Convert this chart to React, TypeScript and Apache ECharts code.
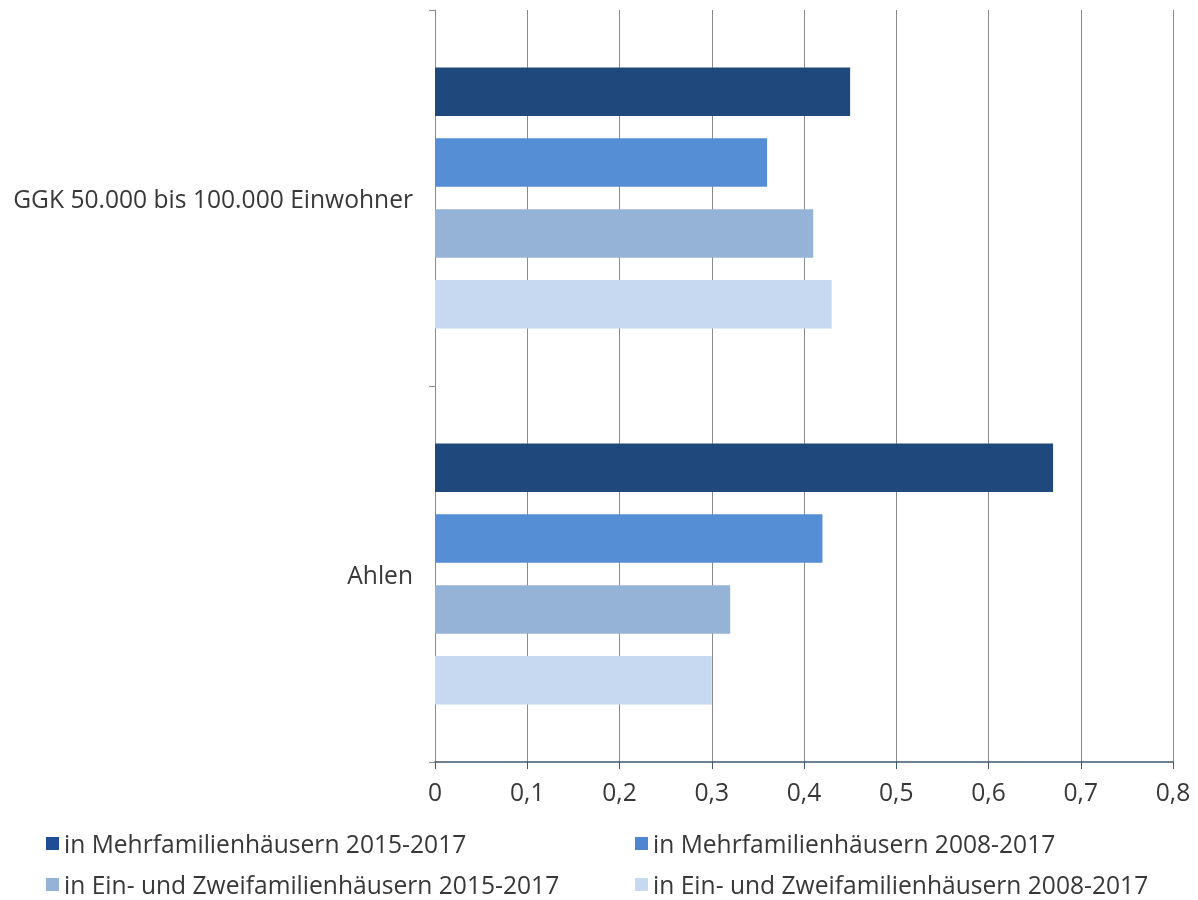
import React, { useEffect, useRef } from "react";
import * as echarts from "echarts";

const categories = ["GGK 50.000 bis 100.000 Einwohner", "Ahlen"];
const seriesNames = [
  "in Mehrfamilienhäusern 2015-2017",
  "in Mehrfamilienhäusern 2008-2017",
  "in Ein- und Zweifamilienhäusern 2015-2017",
  "in Ein- und Zweifamilienhäusern 2008-2017",
];
const mfh2015 = [0.45, 0.67];
const mfh2008 = [0.36, 0.42];
const ezfh2015 = [0.41, 0.32];
const ezfh2008 = [0.43, 0.3];
const colors = ["#1F497D", "#558ED5", "#95B3D7", "#C6D9F1"];
const legendColors = ["#1F4E94", "#4F86D0", "#95B3D7", "#C6D9F1"];
const xTicks = [0, 0.1, 0.2, 0.3, 0.4, 0.5, 0.6, 0.7, 0.8];

const FONT = "'Open Sans', 'DejaVu Sans', sans-serif";
const FS = 24.6;

export default function App() {
  const ref = useRef<HTMLDivElement>(null);
  useEffect(() => {
    if (!ref.current) return;
    const chart = echarts.init(ref.current, null, { renderer: "svg" });
    const values = [mfh2015, mfh2008, ezfh2015, ezfh2008];
    const legendPos = [
      { left: 46, top: 831 },
      { left: 635, top: 831 },
      { left: 46, top: 872 },
      { left: 635, top: 872 },
    ];
    chart.setOption({
      animation: false,
      textStyle: { fontFamily: FONT },
      grid: { left: 435, right: 25, top: 10, bottom: 138, containLabel: false },
      legend: seriesNames.map((n, i) => ({
        data: [{ name: n, itemStyle: { color: legendColors[i] } }],
        left: legendPos[i].left,
        top: legendPos[i].top,
        icon: "rect",
        itemWidth: 13,
        itemHeight: 13,
        itemGap: 0,
        padding: 0,
        textStyle: { fontSize: FS, color: "#383838", fontFamily: FONT },
      })),
      xAxis: {
        type: "value",
        min: 0,
        max: 0.8,
        interval: 0.1,
        axisLine: { show: true, lineStyle: { color: "#3E5870", width: 1.5 } },
        axisTick: { show: true, length: 7, lineStyle: { color: "#3E5870" } },
        axisLabel: {
          fontSize: FS,
          color: "#383838",
          margin: 17,
          fontFamily: FONT,
          formatter: (v: number) => {
            const t = xTicks.find((x) => Math.abs(x - v) < 1e-9);
            return t === undefined ? "" : String(t).replace(".", ",");
          },
        },
        splitLine: { show: true, lineStyle: { color: "#8A8A8A", width: 1 } },
      },
      yAxis: {
        type: "category",
        data: categories,
        inverse: true,
        axisLine: { show: true, lineStyle: { color: "#8A8A8A", width: 1 } },
        axisTick: { show: true, length: 6, lineStyle: { color: "#8A8A8A" } },
        axisLabel: { fontSize: FS, color: "#383838", margin: 22, fontFamily: FONT },
      },
      series: seriesNames.map((n, i) => ({
        name: n,
        type: "bar",
        data: values[i],
        itemStyle: { color: colors[i] },
        barGap: "46%",
        barCategoryGap: "30.6%",
      })),
    });
    return () => chart.dispose();
  }, []);
  return (
    <div
      ref={ref}
      style={{ position: "fixed", left: 0, top: 0, width: 1198, height: 900 }}
    />
  );
}
